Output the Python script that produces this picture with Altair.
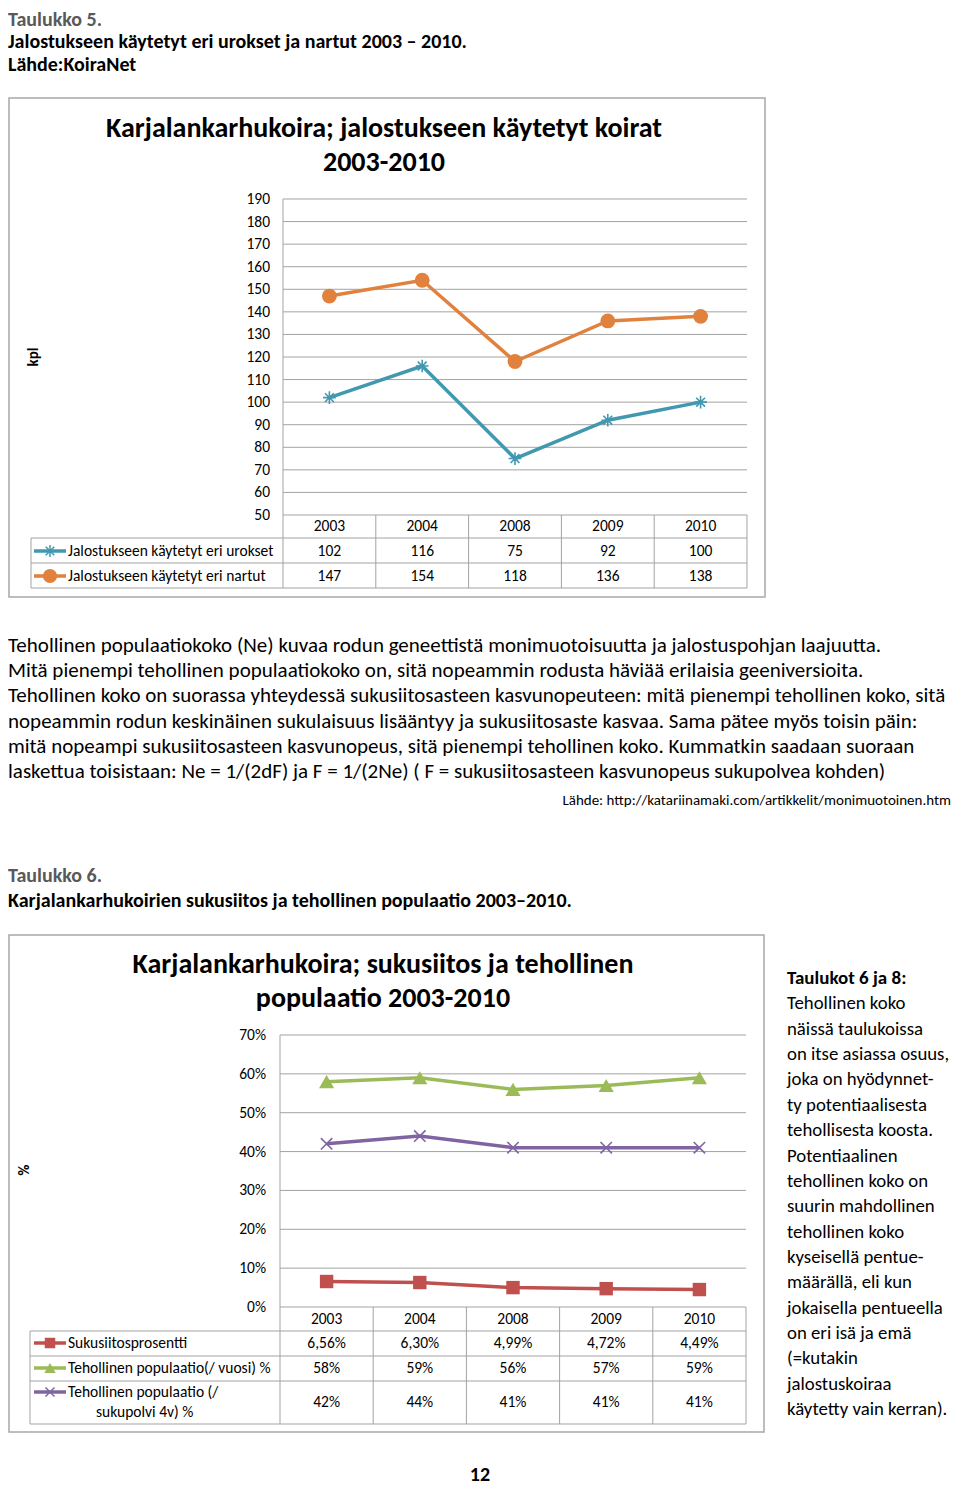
import altair as alt
import pandas as pd

# ---------------- data ----------------
years = ["2003", "2004", "2008", "2009", "2010"]
urokset = [102, 116, 75, 92, 100]
nartut = [147, 154, 118, 136, 138]
ticks_kpl = [50, 60, 70, 80, 90, 100, 110, 120, 130, 140, 150, 160, 170, 180, 190]
series1 = ["Jalostukseen käytetyt eri urokset", "Jalostukseen käytetyt eri nartut"]

sukusiitos = [6.56, 6.30, 4.99, 4.72, 4.49]
vuosi = [58, 59, 56, 57, 59]
sukupolvi = [42, 44, 41, 41, 41]
sukusiitos_txt = ["6,56%", "6,30%", "4,99%", "4,72%", "4,49%"]
vuosi_txt = ["58%", "59%", "56%", "57%", "59%"]
sukupolvi_txt = ["42%", "44%", "41%", "41%", "41%"]
ticks_pct = [0, 10, 20, 30, 40, 50, 60, 70]
ticks_pct_lbl = ["0%", "10%", "20%", "30%", "40%", "50%", "60%", "70%"]
series2 = ["Sukusiitosprosentti", "Tehollinen populaatio(/ vuosi) %"]
series2c = ["Tehollinen populaatio (/", "sukupolvi 4v) %"]

head1 = ["Taulukko 5."]
head1b = ["Jalostukseen käytetyt eri urokset ja nartut 2003 – 2010.", "Lähde:KoiraNet"]
title1 = ["Karjalankarhukoira; jalostukseen käytetyt koirat", "2003-2010"]
paragraph = [
    "Tehollinen populaatiokoko (Ne) kuvaa rodun geneettistä monimuotoisuutta ja jalostuspohjan laajuutta.",
    "Mitä pienempi tehollinen populaatiokoko on, sitä nopeammin rodusta häviää erilaisia geeniversioita.",
    "Tehollinen koko on suorassa yhteydessä sukusiitosasteen kasvunopeuteen: mitä pienempi tehollinen koko, sitä",
    "nopeammin rodun keskinäinen sukulaisuus lisääntyy ja sukusiitosaste kasvaa. Sama pätee myös toisin päin:",
    "mitä nopeampi sukusiitosasteen kasvunopeus, sitä pienempi tehollinen koko. Kummatkin saadaan suoraan",
    "laskettua toisistaan: Ne = 1/(2dF) ja F = 1/(2Ne) ( F = sukusiitosasteen kasvunopeus sukupolvea kohden)",
]
source = ["Lähde: http://katariinamaki.com/artikkelit/monimuotoinen.htm"]
head2 = ["Taulukko 6."]
head2b = ["Karjalankarhukoirien sukusiitos ja tehollinen populaatio 2003–2010."]
title2 = ["Karjalankarhukoira; sukusiitos ja tehollinen", "populaatio 2003-2010"]
side_bold = ["Taulukot 6 ja 8:"]
side = [
    "Tehollinen koko", "näissä taulukoissa", "on itse asiassa osuus,", "joka on hyödynnet-",
    "ty potentiaalisesta", "tehollisesta koosta.", "Potentiaalinen", "tehollinen koko on",
    "suurin mahdollinen", "tehollinen koko", "kyseisellä pentue-", "määrällä, eli kun",
    "jokaisella pentueella", "on eri isä ja emä", "(=kutakin", "jalostuskoiraa",
    "käytetty vain kerran).",
]
page_no = ["12"]

# ---------------- layout / style ----------------
OFF = 8
W, H = 944, 1480
LEFT = 8  # leftmost page x that can be drawn
FONT = "Carlito, Lato, sans-serif"
GRID = "#a3a3a3"
FRAME = "#a8a8a8"
C_BLUE, C_ORANGE = "#4198af", "#e0823d"
C_RED, C_GREEN, C_PURPLE = "#c0504d", "#9bbb59", "#8064a2"
ASTER = "M-1,0L1,0M0,-1L0,1M-0.7,-0.7L0.7,0.7M-0.7,0.7L0.7,-0.7"
XSHAPE = "M-1,-1L1,1M-1,1L1,-1"
CH = 15.5  # chart text size


def px(v):
    return v - OFF


layers = []


def text_lines(lines, x, y0, dy, size, weight="normal", color="#000000", align="left", angle=0):
    df = pd.DataFrame({"t": lines, "y": [px(y0 + i * dy) for i in range(len(lines))]})
    return alt.Chart(df).mark_text(
        align=align, baseline="middle", fontSize=size, fontWeight=weight,
        color=color, font=FONT, angle=angle,
    ).encode(x=alt.value(px(x)), y=alt.Y("y:Q", scale=None), text="t:N")


def hrules(ys, x1, x2, color=GRID, width=1):
    df = pd.DataFrame({"y": [px(v) for v in ys]})
    return alt.Chart(df).mark_rule(color=color, strokeWidth=width).encode(
        y=alt.Y("y:Q", scale=None), x=alt.value(px(x1)), x2=alt.value(px(x2)))


def vrules(xs, y1, y2, color=GRID, width=1):
    df = pd.DataFrame({"x": [px(v) for v in xs]})
    return alt.Chart(df).mark_rule(color=color, strokeWidth=width).encode(
        x=alt.X("x:Q", scale=None), y=alt.value(px(y1)), y2=alt.value(px(y2)))


def frame(x1, y1, x2, y2):
    return alt.Chart(pd.DataFrame({"a": [0]})).mark_rect(
        fill="white", stroke=FRAME, strokeWidth=1.5).encode(
        x=alt.value(px(x1)), x2=alt.value(px(x2)), y=alt.value(px(y1)), y2=alt.value(px(y2)))


def legend_marker(y, color, shape, size, filled, x1=34, x2=66):
    seg = alt.Chart(pd.DataFrame({"a": [0]})).mark_rule(color=color, strokeWidth=3.5).encode(
        x=alt.value(px(x1)), x2=alt.value(px(x2)), y=alt.value(px(y)))
    pt = alt.Chart(pd.DataFrame({"a": [0]})).mark_point(
        shape=shape, size=size, filled=filled, color=color, opacity=1,
        strokeWidth=1.5 if not filled else 0).encode(
        x=alt.value(px((x1 + x2) / 2)), y=alt.value(px(y)))
    return [seg, pt]


def series_layers(vals, xs, ys, color, shape, size, filled):
    df = pd.DataFrame({"year": years, "v": vals})
    enc = dict(x=alt.X("year:O", scale=xs, axis=None), y=alt.Y("v:Q", scale=ys, axis=None))
    line = alt.Chart(df).mark_line(color=color, strokeWidth=3.5).encode(**enc)
    pts = alt.Chart(df).mark_point(
        shape=shape, size=size, filled=filled, color=color, opacity=1,
        strokeWidth=1.6 if not filled else 0).encode(**enc)
    return [line, pts]


def value_row(texts, xs, y, size=CH):
    df = pd.DataFrame({"year": years, "t": texts})
    return alt.Chart(df).mark_text(fontSize=size, font=FONT, baseline="middle", color="#000000").encode(
        x=alt.X("year:O", scale=xs, axis=None), y=alt.value(px(y)), text="t:N")


# ---------------- top headings ----------------
layers.append(text_lines(head1, LEFT, 20, 25, 20, "bold", "#595959"))
layers.append(text_lines(head1b, LEFT, 42, 23, 20, "bold"))

# ---------------- chart 1 ----------------
P1L, P1R, P1T, P1B = 283, 747, 199, 515
step1 = (P1R - P1L) / len(years)
X1 = alt.Scale(type="point", domain=years, range=[px(P1L), px(P1R)], padding=0.5)
Y1 = alt.Scale(domain=[50, 190], range=[px(P1B), px(P1T)], nice=False, zero=False)

layers.append(frame(LEFT + 1, 98, 765, 597))
layers.append(text_lines(title1, 384, 129, 34, 28, "bold", align="center"))
layers.append(text_lines(["kpl"], 33, 357, 0, 15, "bold", angle=270, align="center"))

grid1 = pd.DataFrame({"v": ticks_kpl})
layers.append(alt.Chart(grid1).mark_rule(color=GRID, strokeWidth=1).encode(
    y=alt.Y("v:Q", scale=Y1, axis=None), x=alt.value(px(P1L)), x2=alt.value(px(P1R))))
layers.append(alt.Chart(grid1).mark_text(align="right", baseline="middle", fontSize=CH, font=FONT,
                                         color="#000000").encode(
    y=alt.Y("v:Q", scale=Y1, axis=None), x=alt.value(px(270)), text="v:Q"))

# table 1
layers.append(hrules([538, 563, 588], 31, P1R))
layers.append(vrules([31], 538, 588))
layers.append(vrules([P1L], P1T, 588))
layers.append(vrules([P1L + step1 * k for k in range(1, 6)], P1B, 588))
layers.append(value_row(years, X1, 526))
layers.append(value_row([str(v) for v in urokset], X1, 551))
layers.append(value_row([str(v) for v in nartut], X1, 576))
layers.append(text_lines(series1, 68, 551, 25, CH))
layers += legend_marker(551, C_BLUE, ASTER, 150, False)
layers += legend_marker(576, C_ORANGE, "circle", 200, True)

layers += series_layers(urokset, X1, Y1, C_BLUE, ASTER, 160, False)
layers += series_layers(nartut, X1, Y1, C_ORANGE, "circle", 220, True)

# ---------------- paragraph ----------------
layers.append(text_lines(paragraph, LEFT, 646, 25.2, 21))
layers.append(text_lines(source, W + OFF - 1, 800, 0, 15, align="right"))

layers.append(text_lines(head2, LEFT, 876, 25, 20, "bold", "#595959"))
layers.append(text_lines(head2b, LEFT, 901, 25, 20, "bold"))

# ---------------- chart 2 ----------------
P2L, P2R, P2T, P2B = 280, 746, 1035, 1307
step2 = (P2R - P2L) / len(years)
X2 = alt.Scale(type="point", domain=years, range=[px(P2L), px(P2R)], padding=0.5)
Y2 = alt.Scale(domain=[0, 70], range=[px(P2B), px(P2T)], nice=False, zero=False)

layers.append(frame(LEFT + 1, 935, 764, 1432))
layers.append(text_lines(title2, 383, 965, 34, 28, "bold", align="center"))
layers.append(text_lines(["%"], 24, 1170, 0, 15, "bold", angle=270, align="center"))

grid2 = pd.DataFrame({"v": ticks_pct, "t": ticks_pct_lbl})
layers.append(alt.Chart(grid2).mark_rule(color=GRID, strokeWidth=1).encode(
    y=alt.Y("v:Q", scale=Y2, axis=None), x=alt.value(px(P2L)), x2=alt.value(px(P2R))))
layers.append(alt.Chart(grid2).mark_text(align="right", baseline="middle", fontSize=CH, font=FONT,
                                         color="#000000").encode(
    y=alt.Y("v:Q", scale=Y2, axis=None), x=alt.value(px(266)), text="t:N"))

# table 2
layers.append(hrules([1331, 1356, 1381, 1424], 30, P2R))
layers.append(vrules([30], 1331, 1424))
layers.append(vrules([P2L], P2T, 1424))
layers.append(vrules([P2L + step2 * k for k in range(1, 6)], P2B, 1424))
layers.append(value_row(years, X2, 1319))
layers.append(value_row(sukusiitos_txt, X2, 1343))
layers.append(value_row(vuosi_txt, X2, 1368))
layers.append(value_row(sukupolvi_txt, X2, 1402))
layers.append(text_lines(series2, 68, 1343, 25, CH))
layers.append(text_lines(series2c[:1], 68, 1392, 0, CH))
layers.append(text_lines(series2c[1:], 96, 1412, 0, CH))
layers += legend_marker(1343, C_RED, "square", 110, True)
layers += legend_marker(1368, C_GREEN, "triangle-up", 130, True)
layers += legend_marker(1392, C_PURPLE, XSHAPE, 80, False)

layers += series_layers(sukusiitos, X2, Y2, C_RED, "square", 180, True)
layers += series_layers(vuosi, X2, Y2, C_GREEN, "triangle-up", 230, True)
layers += series_layers(sukupolvi, X2, Y2, C_PURPLE, XSHAPE, 130, False)

# ---------------- side text ----------------
layers.append(text_lines(side_bold, 787, 978, 25, 19, "bold"))
layers.append(text_lines(side, 787, 1003.4, 25.35, 18.8))

layers.append(text_lines(page_no, 480, 1475, 0, 20, "bold", align="center"))

chart = alt.layer(*layers).resolve_scale(x="independent", y="independent").properties(
    width=W, height=H, autosize=alt.AutoSizeParams(type="none"), padding=0,
).configure_view(stroke=None)

chart.save("out.html", embed_options={"renderer": "svg", "actions": False})
